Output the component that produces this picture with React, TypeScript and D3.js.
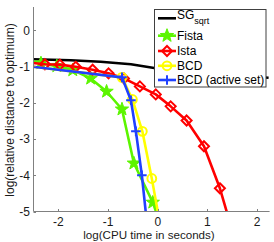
import React from "react"
import * as d3 from "d3"

// log10 CPU time vs log10 relative distance to optimum
const sgX = [-2.55, -1.75, -1.15, -0.54, -0.04, 0.46, 1.17, 2.23]
const sgY = [-0.8, -0.83, -0.87, -0.94, -1.05, -1.12, -1.22, -1.31]

const fistaX = [-2.55, -2.35, -2.03, -1.71, -1.35, -1.03, -0.72, -0.48, -0.1, 0.04]
const fistaY = [-0.86, -0.91, -0.99, -1.1, -1.33, -1.69, -2.18, -3.67, -4.75, -5.3]

const istaX = [-2.55, -2.27, -1.97, -1.65, -1.31, -0.99, -0.68, -0.36, -0.04, 0.26, 0.58, 0.93, 1.25, 1.45]
const istaY = [-0.9, -0.94, -0.95, -1.01, -1.09, -1.19, -1.33, -1.55, -1.77, -2.1, -2.49, -3.2, -4.36, -5.3]

const bcdX = [-2.55, -0.72, -0.51, -0.31, -0.12, 0.04]
const bcdY = [-1.0, -1.3, -1.91, -2.79, -4.09, -5.3]

const bcdActiveX = [-2.55, -0.72, -0.54, -0.44, -0.32, -0.22]
const bcdActiveY = [-1.0, -1.3, -1.93, -2.79, -4.0, -5.3]

const xTicks = [-2, -1, 0, 1, 2]
const yTicks = [-5, -4, -3, -2, -1, 0]

type Marker = "none" | "star" | "diamond" | "circle" | "plus"

const series = [
  { name: "SG", sub: "sqrt", xs: sgX, ys: sgY, color: "#000000", marker: "none" as Marker },
  { name: "Fista", sub: "", xs: fistaX, ys: fistaY, color: "#5cf500", marker: "star" as Marker },
  { name: "Ista", sub: "", xs: istaX, ys: istaY, color: "#ff0000", marker: "diamond" as Marker },
  { name: "BCD", sub: "", xs: bcdX, ys: bcdY, color: "#ffff00", marker: "circle" as Marker },
  { name: "BCD (active set)", sub: "", xs: bcdActiveX, ys: bcdActiveY, color: "#2040ff", marker: "plus" as Marker },
]

const font = "'Liberation Sans', Arial, Helvetica, sans-serif"

function MarkerShape({ type, x, y, color }: { type: Marker; x: number; y: number; color: string }) {
  if (type === "star") {
    const pts = d3.range(10).map((i) => {
      const r = i % 2 === 0 ? 7 : 2.9
      const a = -Math.PI / 2 + (i * Math.PI) / 5
      return [x + r * Math.cos(a), y + r * Math.sin(a)].join(",")
    })
    return <polygon points={pts.join(" ")} fill={color} stroke={color} strokeWidth={1} strokeLinejoin="round" />
  }
  if (type === "diamond") {
    const s = 5
    return (
      <polygon
        points={`${x},${y - s} ${x + s},${y} ${x},${y + s} ${x - s},${y}`}
        fill="none"
        stroke={color}
        strokeWidth={2}
      />
    )
  }
  if (type === "circle") {
    return <circle cx={x} cy={y} r={4.4} fill="none" stroke={color} strokeWidth={2} />
  }
  if (type === "plus") {
    const s = 4.8
    return (
      <path d={`M${x - s},${y}H${x + s}M${x},${y - s}V${y + s}`} stroke={color} strokeWidth={2} fill="none" />
    )
  }
  return null
}

export default function App() {
  const left = 33.5
  const right = 269.6
  const top = 7
  const bottom = 211.5

  const x = d3.scaleLinear().domain([-2.5, 2.25]).range([left, right])
  const y = d3.scaleLinear().domain([-5, 0.64]).range([bottom, top])

  const line = d3
    .line<[number, number]>()
    .x((d) => x(d[0]))
    .y((d) => y(d[1]))

  const legendY = [18.3, 35.7, 51, 65.8, 80]

  return (
    <svg width={274} height={242} style={{ position: "absolute", left: 0, top: 0, background: "#fff" }} fontFamily={font}>
      <defs>
        <clipPath id="plot">
          <rect x={left} y={top} width={right - left} height={bottom - top} />
        </clipPath>
      </defs>

      <g clipPath="url(#plot)">
        {series.map((s) => {
          const pts = s.xs.map((v, i) => [v, s.ys[i]] as [number, number])
          return (
            <g key={s.name}>
              <path d={line(pts) ?? ""} fill="none" stroke={s.color} strokeWidth={2.6} strokeLinejoin="round" />
              {s.marker !== "none" &&
                pts
                  .filter((p) => p[0] >= -2.5 && p[1] >= -5)
                  .map((p, i) => <MarkerShape key={i} type={s.marker} x={x(p[0])} y={y(p[1])} color={s.color} />)}
            </g>
          )
        })}
      </g>

      {/* axes */}
      <g stroke="#808080" strokeWidth={1} fill="none">
        <line x1={left} y1={top} x2={left} y2={bottom} />
        <line x1={left} y1={bottom} x2={right} y2={bottom} />
        {xTicks.map((t) => (
          <line key={t} x1={Math.round(x(t)) + 0.5} x2={Math.round(x(t)) + 0.5} y1={bottom} y2={bottom - 2.5} />
        ))}
        {yTicks.map((t) => (
          <line key={t} x1={left} x2={left + 2.5} y1={Math.round(y(t)) + 0.5} y2={Math.round(y(t)) + 0.5} />
        ))}
      </g>

      <g fill="#1a1a1a" fontSize={12}>
        {xTicks.map((t) => (
          <text key={t} x={x(t)} y={226} textAnchor="middle">
            {t < 0 ? "-" + Math.abs(t) : t}
          </text>
        ))}
        {yTicks.map((t) => (
          <text key={t} x={30} y={y(t) + 4.3} textAnchor="end">
            {t < 0 ? "-" + Math.abs(t) : t}
          </text>
        ))}
        <text x={149} y={238.5} textAnchor="middle" fontSize={11.6}>
          log(CPU time in seconds)
        </text>
        <text transform={`translate(13.5,110) rotate(-90)`} textAnchor="middle">
          log(relative distance to optimum)
        </text>
      </g>

      {/* legend */}
      <g>
        <rect x={154.5} y={9.5} width={111.5} height={77.5} fill="#fff" stroke="#404040" strokeWidth={1} />
        {series.map((s, i) => {
          const ly = legendY[i]
          return (
            <g key={s.name}>
              <line x1={158} x2={176} y1={ly} y2={ly} stroke={s.color} strokeWidth={2.6} />
              <MarkerShape type={s.marker} x={167} y={ly} color={s.color} />
              {s.sub ? (
                <text x={177} y={ly + 0.5} fontSize={12} fill="#000">
                  {s.name}
                  <tspan fontSize={9} dy={5.5}>
                    {s.sub}
                  </tspan>
                </text>
              ) : (
                <text x={177} y={ly + 4.3} fontSize={12} fill="#000">
                  {s.name}
                </text>
              )}
            </g>
          )
        })}
      </g>
    </svg>
  )
}
